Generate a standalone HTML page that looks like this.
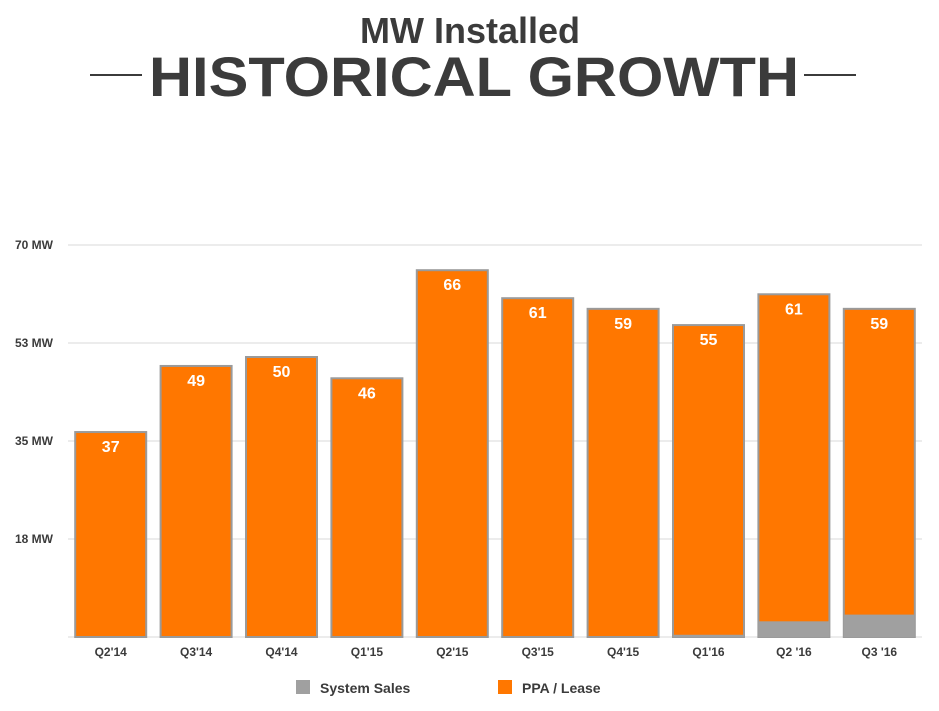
<!DOCTYPE html>
<html><head><meta charset="utf-8"><style>
body{margin:0;background:#fff;width:939px;height:706px;overflow:hidden;font-family:"Liberation Sans",Arial,sans-serif}
</style></head><body>
<svg id="c" width="939" height="706" xmlns="http://www.w3.org/2000/svg">
<text x="470" y="43" text-anchor="middle" font-size="36" font-weight="bold" fill="#3b3b3b">MW Installed</text>
<text x="474" y="96" text-anchor="middle" font-size="56" font-weight="bold" fill="#3b3b3b" textLength="650" lengthAdjust="spacingAndGlyphs">HISTORICAL GROWTH</text>
<line x1="90" y1="75" x2="142" y2="75" stroke="#3b3b3b" stroke-width="2"/>
<line x1="804" y1="75" x2="856" y2="75" stroke="#3b3b3b" stroke-width="2"/>
<g id="grid"></g><g id="bars"></g><g id="xl"></g>
<rect x="296" y="680" width="14" height="14" fill="#a0a0a0"/>
<text x="320" y="693" font-size="14" font-weight="bold" fill="#3b3b3b">System Sales</text>
<rect x="498" y="680" width="14" height="14" fill="#ff7700"/>
<text x="522" y="693" font-size="14" font-weight="bold" fill="#3b3b3b">PPA / Lease</text>
</svg>
<script>
const categories=["Q2'14","Q3'14","Q4'14","Q1'15","Q2'15","Q3'15","Q4'15","Q1'16","Q2 '16","Q3 '16"];
const totals=[36.6,48.4,50,46.2,65.5,60.5,58.6,55.7,61.2,58.6];
const valueLabels=["37","49","50","46","66","61","59","55","61","59"];
const systemSales=[0,0,0,0,0,0,0,0.4,2.8,4];
const tickValues=[17.5,35,52.5,70];
const tickLabels=["18 MW","35 MW","53 MW","70 MW"];
const NS="http://www.w3.org/2000/svg";
const x0=68,x1=922,gx0=68,yb=637,yt=245,maxV=70;
const y=v=>yb-(yb-yt)*v/maxV;
const step=(x1-x0)/categories.length;
const xc=i=>x0+step*(i+0.5);
function mk(t,a,p){const e=document.createElementNS(NS,t);for(const k in a)e.setAttribute(k,a[k]);p.appendChild(e);return e;}
const g=document.getElementById('grid');
tickValues.forEach((v,i)=>{
 const l=mk('line',{x1:gx0,x2:x1,y1:y(v),y2:y(v),stroke:'#d8d8d8','stroke-width':1},g);
 
 
 const t=mk('text',{x:53,y:y(v)+4,'text-anchor':'end','font-size':12,'font-weight':'bold',fill:'#3b3b3b'},g);t.textContent=tickLabels[i];
 
 
});
const bl=mk('line',{x1:x0,x2:x1,y1:yb,y2:yb,stroke:'#d8d8d8','stroke-width':1},g);


const b=document.getElementById('bars'),xl=document.getElementById('xl');
categories.forEach((c,i)=>{
 const w=71,left=xc(i)-w/2;
 const r=mk('rect',{x:left,y:y(totals[i]),width:w,height:yb-y(totals[i]),fill:'#ff7700',stroke:'#9a9a9a','stroke-width':2},b);
 
 
 if(systemSales[i]>0){
  const s=mk('rect',{x:left,y:y(systemSales[i]),width:w,height:yb-y(systemSales[i]),fill:'#a0a0a0'},b);
  
  
 }
 const v=mk('text',{x:xc(i),y:y(totals[i])+20,'text-anchor':'middle','font-size':16,'font-weight':'bold',fill:'#fff'},b);v.textContent=valueLabels[i];
 
 
 const t=mk('text',{x:xc(i),y:656,'text-anchor':'middle','font-size':12,'font-weight':'bold',fill:'#3b3b3b'},xl);t.textContent=c;
 
 
});
</script>
</body></html>
